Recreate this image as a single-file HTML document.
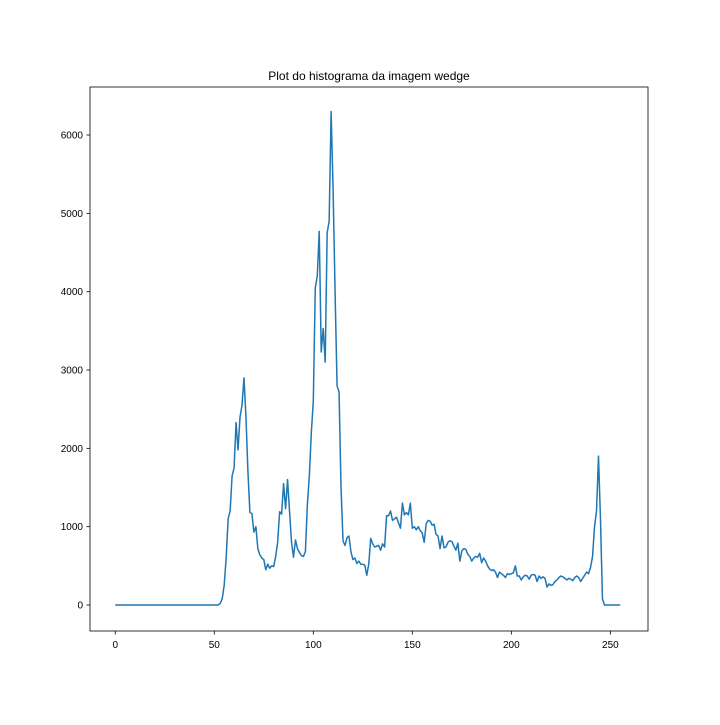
<!DOCTYPE html>
<html><head><meta charset="utf-8"><style>
body{margin:0;background:#fff;}
svg text{font-family:"Liberation Sans","DejaVu Sans",sans-serif;font-size:10px;fill:#000;}
</style></head><body>
<svg id="chart" width="720" height="720">
<rect width="720" height="720" fill="#fff"/>
<text x="369" y="80" text-anchor="middle" style="font-size:12px">Plot do histograma da imagem wedge</text>
<g id="axes"></g>
<rect x="90" y="87" width="558" height="544" fill="none" stroke="#000" stroke-width="0.8"/>
</svg>
<script>
const xTicks=[0,50,100,150,200,250];
const yTicks=[0,1000,2000,3000,4000,5000,6000];
const head=[];for(let i=0;i<52;i++)head.push(0);
const counts=head.concat([0,20,80,250,600,1100,1200,1650,1750,2330,1980,2400,2550,2900,2400,1700,1180,1170,930,1000,720,640,600,580,450,520,470,500,490,620,800,1190,1160,1550,1230,1600,1200,800,610,830,720,670,630,620,680,1280,1650,2200,2600,4050,4200,4770,3230,3530,3100,4750,4900,6300,5300,4000,2800,2720,1500,820,760,860,880,680,580,600,530,560,520,520,510,380,520,850,780,740,750,760,700,780,740,1140,1140,1200,1080,1100,1120,1050,980,1300,1150,1180,1150,1300,980,1000,960,1000,950,920,800,1040,1080,1070,1020,1030,900,880,720,880,730,740,800,820,810,750,700,790,560,690,720,710,650,620,560,600,620,610,660,540,600,560,500,460,440,450,420,350,420,400,380,350,400,390,400,410,500,370,370,320,360,380,370,330,380,390,380,300,370,340,360,340,230,270,250,260,300,320,350,370,360,340,320,340,330,310,350,370,350,300,340,380,420,400,480,620,1000,1200,1900,1100,80,0,0,0,0,0,0,0,0,0]);
const X0=90,X1=648,Y0=631,Y1=87,xmin=-12.75,xmax=269.0,ymin=-332,ymax=6613;
const sx=v=>X0+(v-xmin)/(xmax-xmin)*(X1-X0);
const sy=v=>Y0-(v-ymin)/(ymax-ymin)*(Y0-Y1);
const NS="http://www.w3.org/2000/svg";
const g=document.getElementById('axes');
function mk(t,a){const e=document.createElementNS(NS,t);for(const k in a)e.setAttribute(k,a[k]);g.appendChild(e);return e;}
xTicks.forEach(v=>{
 const l=mk('line',{x1:sx(v),x2:sx(v),y1:Y0,y2:Y0+3.5,stroke:'#000','stroke-width':0.8});
 
 
 const t=mk('text',{x:sx(v),y:Y0+17,'text-anchor':'middle'});t.textContent=v;
 
 
});
yTicks.forEach(v=>{
 const l=mk('line',{x1:X0-3.5,x2:X0,y1:sy(v),y2:sy(v),stroke:'#000','stroke-width':0.8});
 
 
 const t=mk('text',{x:X0-7,y:sy(v)+3.5,'text-anchor':'end'});t.textContent=v;
 
 
});
const d=counts.map((v,i)=>(i?'L':'M')+sx(i).toFixed(2)+','+sy(v).toFixed(2)).join('');
const p=mk('path',{d:d,fill:'none',stroke:'#1f77b4','stroke-width':1.5,'stroke-linejoin':'round'});


</script>
</body></html>
